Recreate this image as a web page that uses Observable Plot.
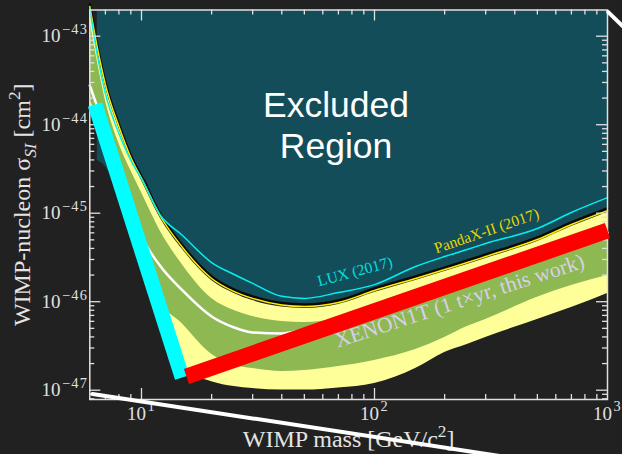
<!DOCTYPE html>
<html><head><meta charset="utf-8">
<script src="https://cdn.jsdelivr.net/npm/d3@7"></script>
<script src="https://cdn.jsdelivr.net/npm/@observablehq/plot@0.6"></script>
<style>html,body{margin:0;padding:0;background:#212121;overflow:hidden}</style>
</head><body><div id="chart"></div>
<script>
// ---- data (WIMP mass in GeV/c^2, cross-section in cm^2) ----
const mass = [6, 6.5, 7, 8, 9, 10, 12, 15, 20, 25, 30, 40, 50, 70, 100, 150, 200, 250, 300, 500, 700, 1000];
const xenonLimit = [2.28e-43, 7.26e-44, 3.00e-44, 1.005e-44, 4.49e-45, 2.60e-45, 9.92e-46, 4.32e-46, 1.93e-46, 1.37e-46, 1.15e-46, 9.67e-47, 9.30e-47, 1.03e-46, 1.41e-46, 1.93e-46, 2.43e-46, 2.92e-46, 3.41e-46, 5.31e-46, 7.85e-46, 1.13e-45];
const pandaxLimit = [2.17e-43, 6.89e-44, 2.84e-44, 9.54e-45, 4.26e-45, 2.47e-45, 9.42e-46, 4.10e-46, 1.83e-46, 1.30e-46, 1.09e-46, 9.18e-47, 8.83e-47, 9.79e-47, 1.34e-46, 1.83e-46, 2.31e-46, 2.77e-46, 3.24e-46, 5.04e-46, 7.45e-46, 1.07e-45];
const luxLimit = [2.06e-43, 5.60e-44, 2.25e-44, 7.96e-45, 3.94e-45, 2.47e-45, 9.67e-46, 5.60e-46, 2.77e-46, 2.03e-46, 1.61e-46, 1.15e-46, 1.09e-46, 1.27e-46, 1.56e-46, 2.50e-46, 3.24e-46, 3.89e-46, 4.55e-46, 6.71e-46, 1.02e-45, 1.50e-45];
const medianSens = [2.77e-44, 1.52e-44, 8.60e-45, 3.04e-45, 1.22e-45, 5.60e-46, 2.56e-46, 1.34e-46, 6.81e-47, 5.11e-47, 4.49e-47, 4.37e-47, 4.85e-47, 5.82e-47, 7.55e-47, 1.03e-46, 1.30e-46, 1.56e-46, 1.83e-46, 2.85e-46, 3.89e-46, 6.05e-46];
const band1High = [1.50e-43, 4.79e-44, 1.88e-44, 6.13e-45, 3.04e-45, 1.71e-45, 6.37e-46, 2.60e-46, 1.09e-46, 7.96e-47, 6.81e-47, 5.97e-47, 5.82e-47, 6.46e-47, 8.60e-47, 1.18e-46, 1.45e-46, 1.74e-46, 2.03e-46, 3.24e-46, 4.67e-46, 6.71e-46];
const band1Low = [1.88e-44, 1.18e-44, 5.82e-45, 2.06e-45, 9.42e-46, 3.79e-46, 1.03e-46, 5.60e-47, 2.55e-47, 1.92e-47, 1.76e-47, 1.63e-47, 1.67e-47, 1.85e-47, 2.17e-47, 2.88e-47, 3.94e-47, 5.25e-47, 6.30e-47, 1.12e-46, 1.52e-46, 1.98e-46];
const band2High = [2.06e-43, 6.54e-44, 2.70e-44, 9.06e-45, 4.04e-45, 2.34e-45, 8.94e-46, 3.89e-46, 1.74e-46, 1.24e-46, 1.03e-46, 8.71e-47, 8.38e-47, 9.30e-47, 1.27e-46, 1.74e-46, 2.19e-46, 2.63e-46, 3.08e-46, 4.79e-46, 7.07e-46, 1.02e-45];
const band2Low = [1.52e-44, 8.60e-45, 4.49e-45, 1.47e-45, 5.60e-46, 2.37e-46, 5.82e-47, 1.76e-47, 1.25e-47, 1.10e-47, 1.045e-47, 1.005e-47, 1.005e-47, 1.06e-47, 1.19e-47, 1.76e-47, 2.67e-47, 3.28e-47, 3.94e-47, 6.30e-47, 8.60e-47, 1.24e-46];
// excluded region lower boundary
const tealMass = [6.46, 7, 8, 9, 10, 12, 15, 20, 25, 30, 40, 50, 70, 100, 150, 200, 250, 300, 500, 700, 1000];
const tealLow = [3.94e-45, 3.37e-45, 1.58e-45, 6.37e-46, 2.60e-45, 9.92e-46, 4.32e-46, 1.93e-46, 1.37e-46, 1.15e-46, 9.67e-47, 9.30e-47, 1.03e-46, 1.41e-46, 1.93e-46, 2.43e-46, 2.92e-46, 3.41e-46, 5.31e-46, 7.85e-46, 1.13e-45];
// hand-drawn annotation strokes
const cyanBarMass = [6.32, 14.95], cyanBarSigma = [1.69e-44, 1.39e-47];
const redBarMass = [15.6, 1000], redBarSigma = [1.43e-47, 6.37e-46];
const decoAMass = [6.16, 1160], decoASigma = [9.06e-48, 1.11e-48];
const decoBMass = [1007, 1385], decoBSigma = [1.87e-43, 8.33e-44];
// labels
const curveLabels = [
  {text: "LUX (2017)", m: 82.5, s: 2.19e-46},
  {text: "PandaX-II (2017)", m: 302.5, s: 6.29e-46},
  {text: "XENON1T (1 t×yr, this work)", m: 231.6, s: 1.02e-46}
];
const regionLabel = [{text: "Excluded", m: 68.4, s: 1.64e-44}, {text: "Region", m: 68.4, s: 5.69e-45}];
const xMajor = [10, 100, 1000], xExp = ["1", "2", "3"];
const yMajor = [1e-47, 1e-46, 1e-45, 1e-44, 1e-43], yExp = ["−47", "−46", "−45", "−44", "−43"];

// ---- layout ----
const W = 622, H = 454, mL = 89.3, mR = 15, mT = 9.5, mB = 55;
const fw = W - mL - mR, fh = H - mT - mB;
const yTop = 10 ** -42.704, yBot = 10 ** -47.105;
const serif = "Liberation Serif, Times New Roman, serif";
const fg = "#e0e0e0";

const rows = mass.map((m, i) => ({m, lim: xenonLimit[i], pdx: pandaxLimit[i], lux: luxLimit[i], med: medianSens[i],
  lo1: band1Low[i], hi1: band1High[i], lo2: band2Low[i], hi2: band2High[i]}));
const teal = tealMass.map((m, i) => ({m, lo: tealLow[i]}));
const toPts = (ms, ss) => ms.map((m, i) => ({m, s: ss[i]}));

const xMinor = [];
for (const d of [1, 10, 100]) for (let k = 2; k <= 9; k++) { const v = k * d; if (v > 6 && v < 1000) xMinor.push(v); }
const yMinor = [];
for (let e = -48; e <= -43; e++) for (let k = 2; k <= 9; k++) { const v = k * Math.pow(10, e); if (v > yBot && v < yTop) yMinor.push(v); }

const tk = {stroke: fg, strokeWidth: 1.3};
const plot = Plot.plot({
  width: W, height: H, marginLeft: mL, marginRight: mR, marginTop: mT, marginBottom: mB,
  style: {background: "#212121", color: fg, fontFamily: serif},
  x: {type: "log", domain: [6, 1000], axis: null},
  y: {type: "log", domain: [yBot, yTop], axis: null},
  marks: [
    Plot.areaY(teal, {x: "m", y1: "lo", y2: () => yTop, fill: "#134d59", curve: "monotone-x"}),
    Plot.areaY(rows, {x: "m", y1: "lo2", y2: "hi2", fill: "#ffff99", curve: "monotone-x"}),
    Plot.areaY(rows, {x: "m", y1: "lo1", y2: "hi1", fill: "#8eb852", curve: "monotone-x"}),
    Plot.line(rows, {x: "m", y: "med", stroke: "#ffffff", strokeWidth: 2.5, curve: "monotone-x"}),
    Plot.line(rows, {x: "m", y: "lim", stroke: "#0a0a0a", strokeWidth: 2.5, curve: "monotone-x"}),
    Plot.line(rows, {x: "m", y: "pdx", stroke: "#ffee00", strokeWidth: 1.5, curve: "monotone-x"}),
    Plot.line(rows, {x: "m", y: "lux", stroke: "#00f0f0", strokeWidth: 1.5, curve: "monotone-x"}),
    Plot.frame({stroke: fg, strokeWidth: 1.5}),
    Plot.ruleX(xMinor, {x: d => d, insetTop: fh - 5, ...tk}),
    Plot.ruleX(xMinor, {x: d => d, insetBottom: fh - 5, ...tk}),
    Plot.ruleX(xMajor.slice(0, 2), {x: d => d, insetTop: fh - 11, ...tk}),
    Plot.ruleX(xMajor.slice(0, 2), {x: d => d, insetBottom: fh - 11, ...tk}),
    Plot.ruleY(yMinor, {y: d => d, insetRight: fw - 5, ...tk}),
    Plot.ruleY(yMinor, {y: d => d, insetLeft: fw - 5, ...tk}),
    Plot.ruleY(yMajor, {y: d => d, insetRight: fw - 11, ...tk}),
    Plot.ruleY(yMajor, {y: d => d, insetLeft: fw - 11, ...tk}),
    Plot.text(xMajor, {x: d => d, text: (d, i) => `10{^${xExp[i]}}`, frameAnchor: "bottom", lineAnchor: "middle", textAnchor: "middle", dy: 14, fontSize: 19, fill: fg}),
    Plot.text(yMajor, {y: d => d, text: (d, i) => `10{^${yExp[i]}}`, frameAnchor: "left", lineAnchor: "middle", textAnchor: "end", dx: -1.5, fontSize: 19, fill: fg}),
    Plot.text(["WIMP mass [GeV/c{^2}]"], {text: d => d, frameAnchor: "bottom", lineAnchor: "middle", textAnchor: "middle", dy: 40, fontSize: 24, fill: "#e4e4e4"}),
    Plot.text(["WIMP-nucleon σ{_SI} [cm{^2}]"], {text: d => d, frameAnchor: "left", lineAnchor: "middle", textAnchor: "middle", dx: -67, rotate: -90, fontSize: 24, fill: "#e4e4e4"}),
    Plot.text(regionLabel, {x: "m", y: "s", text: "text", lineAnchor: "middle", fontSize: 35.5, fontFamily: "Liberation Sans, Arial, sans-serif", fill: "#ffffff"}),
    Plot.text(curveLabels.slice(0, 1), {x: "m", y: "s", text: "text", lineAnchor: "middle", rotate: -15, fontSize: 15.5, fill: "#00e0e0"}),
    Plot.text(curveLabels.slice(1, 2), {x: "m", y: "s", text: "text", lineAnchor: "middle", rotate: -19, fontSize: 15.5, fill: "#e8d800"}),
    Plot.text(curveLabels.slice(2, 3), {x: "m", y: "s", text: "text", lineAnchor: "middle", rotate: -18, fontSize: 21.5, fill: "#d8d0ea"}),
    Plot.line(toPts(cyanBarMass, cyanBarSigma), {x: "m", y: "s", stroke: "#00ffff", strokeWidth: 15, strokeLinecap: "butt"}),
    Plot.line(toPts(redBarMass, redBarSigma), {x: "m", y: "s", stroke: "#ff0000", strokeWidth: 16, strokeLinecap: "butt"}),
    Plot.line(toPts(decoAMass, decoASigma), {x: "m", y: "s", stroke: "#ffffff", strokeWidth: 4}),
    Plot.line(toPts(decoBMass, decoBSigma), {x: "m", y: "s", stroke: "#ffffff", strokeWidth: 4})
  ]
});
document.getElementById("chart").appendChild(plot);

// superscripts / subscripts as real text spans
const NS = "http://www.w3.org/2000/svg";
plot.querySelectorAll("text").forEach(t => {
  const s = t.textContent;
  if (!s.includes("{")) return;
  const fs = parseFloat(getComputedStyle(t).fontSize) || 16;
  const small = fs <= 20;
  const ratio = small ? 0.76 : 0.72;
  t.textContent = "";
  let shift = 0;
  const add = (str, kind) => {
    const ts = document.createElementNS(NS, "tspan");
    ts.textContent = str;
    const target = kind === "^" ? -0.43 * fs : kind === "_" ? 0.25 * fs : 0;
    const d = target - shift;
    if (d) ts.setAttribute("dy", d.toFixed(2));
    shift = target;
    if (kind) {
      ts.setAttribute("font-size", (ratio * fs).toFixed(1));
      if (kind === "_") ts.setAttribute("font-style", "italic");
      if (small) { ts.setAttribute("letter-spacing", "1.3"); ts.setAttribute("dx", "1.5"); }
    }
    t.appendChild(ts);
  };
  const re = /\{([\^_])([^}]*)\}/g;
  let last = 0, m;
  while ((m = re.exec(s))) {
    if (m.index > last) add(s.slice(last, m.index), null);
    add(m[2], m[1]);
    last = re.lastIndex;
  }
  if (last < s.length) add(s.slice(last), null);
});
</script>
</body></html>
